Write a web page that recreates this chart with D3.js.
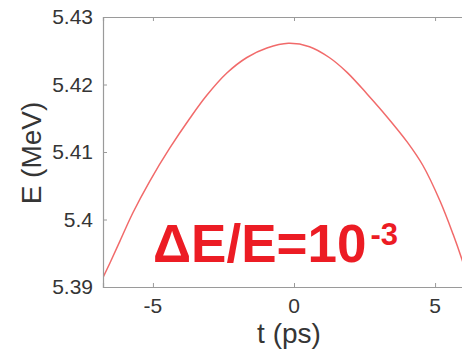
<!DOCTYPE html>
<html>
<head>
<meta charset="utf-8">
<script src="https://cdn.jsdelivr.net/npm/d3@7"></script>
<style>
  html, body { margin: 0; padding: 0; background: #fff; }
  svg { display: block; }
</style>
</head>
<body>
<svg id="chart" width="462" height="350"></svg>
<script>
// Beam energy across the bunch: time (ps) vs energy (MeV)
const timePs = [-6.76, -6.52, -6.17, -5.71, -5.11, -4.40, -3.69, -3.09, -2.38, -1.67, -0.96, -0.20, 0.55, 1.25, 1.88, 2.59, 3.30, 4.01, 4.57, 5.18, 5.64, 5.96, 6.3];
const energyMeV = [5.3915, 5.3936, 5.3968, 5.4010, 5.4057, 5.4106, 5.4150, 5.4184, 5.4217, 5.4240, 5.4254, 5.4261, 5.4256, 5.4240, 5.4218, 5.4186, 5.4152, 5.4115, 5.4080, 5.4027, 5.3978, 5.3940, 5.3895];
const xTicks = [-5, 0, 5];
const xTickLabels = ["-5", "0", "5"];
const yTicks = [5.39, 5.40, 5.41, 5.42, 5.43];
const yTickLabels = ["5.39", "5.4", "5.41", "5.42", "5.43"];

const svg = d3.select("#chart");
const plotLeft = 103, plotTop = 17, plotBottom = 287, plotRight = 485;

const x = d3.scaleLinear().domain([-6.77, 6.77]).range([plotLeft, plotRight]);
const y = d3.scaleLinear().domain([5.39, 5.43]).range([plotBottom, plotTop]);

const axisColor = "#9a9a9a";
const labelColor = "#353535";
const fontFamily = "'Liberation Sans', Arial, sans-serif";

// clip for the data line
svg.append("defs").append("clipPath").attr("id", "plotClip")
  .append("rect").attr("x", plotLeft).attr("y", plotTop)
  .attr("width", plotRight - plotLeft).attr("height", plotBottom - plotTop);

// curve
const line = d3.line()
  .x((d, i) => x(timePs[i]))
  .y(d => y(d))
  .curve(d3.curveCatmullRom);

svg.append("path")
  .datum(energyMeV)
  .attr("clip-path", "url(#plotClip)")
  .attr("fill", "none")
  .attr("stroke", "#f05a5a")
  .attr("stroke-width", 1.5)
  .attr("stroke-opacity", 0.9)
  .attr("d", line);

// axes (inward ticks, box style)
const axisBottom = svg.append("g")
  .attr("transform", `translate(0,${plotBottom})`)
  .call(d3.axisBottom(x).tickValues(xTicks).tickSize(-4).tickFormat(""));
const axisTop = svg.append("g")
  .attr("transform", `translate(0,${plotTop})`)
  .call(d3.axisTop(x).tickValues(xTicks).tickSize(-4).tickFormat(""));
const axisLeft = svg.append("g")
  .attr("transform", `translate(${plotLeft},0)`)
  .call(d3.axisLeft(y).tickValues(yTicks).tickSize(-4).tickPadding(10)
    .tickFormat((d, i) => yTickLabels[i]));
const axisRight = svg.append("g")
  .attr("transform", `translate(${plotRight},0)`)
  .call(d3.axisRight(y).tickValues(yTicks).tickSize(-4).tickFormat(""));

[axisBottom, axisTop, axisLeft, axisRight].forEach(g => {
  g.select(".domain").attr("stroke", axisColor).attr("stroke-width", 1.2);
  g.selectAll(".tick line").attr("stroke", axisColor).attr("stroke-width", 1);
  g.selectAll(".tick text")
    .attr("fill", labelColor)
    .style("font-family", fontFamily)
    .style("font-size", "21px");
});

// x tick labels, placed by the x scale
svg.append("g").selectAll("text")
  .data(xTicks)
  .join("text")
  .attr("x", d => x(d))
  .attr("y", 313)
  .attr("text-anchor", "middle")
  .attr("fill", labelColor)
  .style("font-family", fontFamily)
  .style("font-size", "21px")
  .text((d, i) => xTickLabels[i]);

// axis titles
svg.append("text")
  .attr("x", 289).attr("y", 343)
  .attr("text-anchor", "middle")
  .attr("fill", labelColor)
  .style("font-family", fontFamily)
  .style("font-size", "28px")
  .text("t (ps)");

svg.append("text")
  .attr("transform", "translate(41,153) rotate(-90)")
  .attr("text-anchor", "middle")
  .attr("fill", labelColor)
  .style("font-family", fontFamily)
  .style("font-size", "28px")
  .text("E (MeV)");

// energy spread annotation
const note = svg.append("text")
  .attr("x", 153).attr("y", 262)
  .attr("fill", "#ec1c24")
  .style("font-family", fontFamily)
  .style("font-weight", "bold")
  .style("font-size", "53px");
note.append("tspan").text("ΔE/E=10");
note.append("tspan")
  .attr("dx", 4).attr("dy", -17)
  .style("font-size", "31px")
  .text("-3");
</script>
</body>
</html>
